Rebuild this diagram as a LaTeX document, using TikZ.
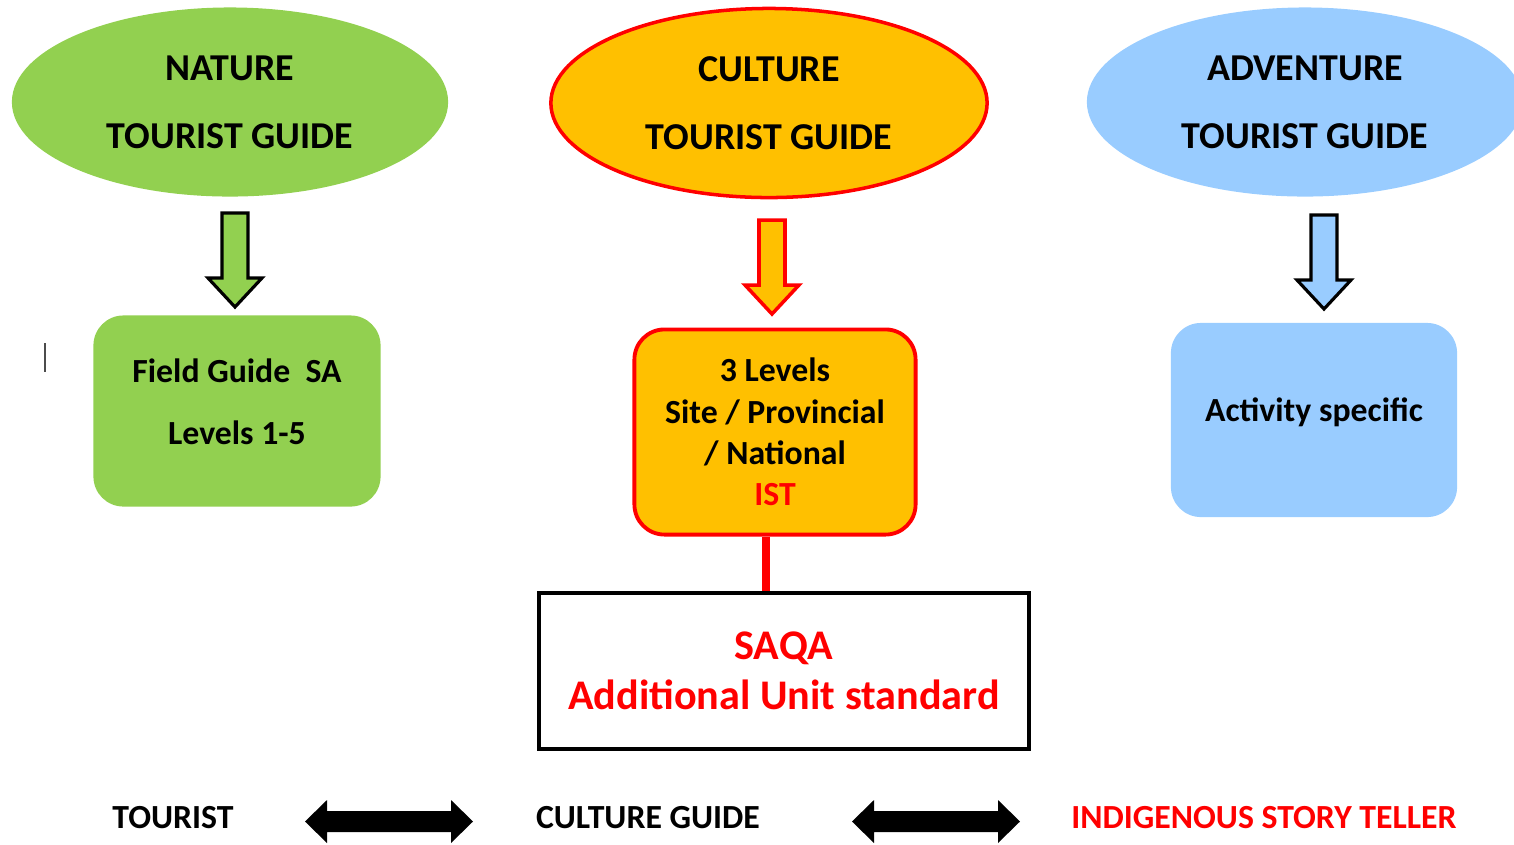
\documentclass[tikz,border=0pt]{standalone}
\usepackage{fontspec}
\setmainfont{Carlito}
\usetikzlibrary{shapes.geometric}
\usetikzlibrary{positioning}

\definecolor{natgreen}{HTML}{92D050}
\definecolor{culorange}{HTML}{FFC000}
\definecolor{advblue}{HTML}{99CCFF}

\tikzset{
    guide/.style={ellipse, minimum width=4.36cm, minimum height=1.89cm, inner sep=0pt, align=center,
        font=\bfseries\fontsize{10.8}{19.3}\selectfont},
    levelbox/.style={rectangle, rounded corners=0.3cm, inner sep=0pt, align=center,
        font=\bfseries\fontsize{9.6}{11.75}\selectfont},
    boxtext/.style={inner sep=0pt, align=center, font=\bfseries\fontsize{9.6}{17.6}\selectfont},
    rowtext/.style={inner sep=0pt, font=\bfseries\fontsize{9.6}{11.5}\selectfont},
    pics/downblock/.style={code={
        \draw[#1] (-13,0) -- (13,0) -- (13,65) -- (27,65) -- (0,94) -- (-27,65) -- (-13,65) -- cycle;
    }},
    pics/twinblock/.style={code={
        \fill (-84,0) -- (-62,-21.5) -- (-62,-10.5) -- (62,-10.5) -- (62,-21.5) -- (84,0)
            -- (62,21.5) -- (62,10.5) -- (-62,10.5) -- (-62,21.5) -- cycle;
    }}
}

\begin{document}
\begin{tikzpicture}[x=0.01cm, y=-0.01cm]
        \useasboundingbox (0,0) rectangle (1514,844);

        % Guide types
        \node[guide, fill=natgreen] (nature) at (230,102) {NATURE\\TOURIST GUIDE};
        \node[guide, fill=culorange, draw=red, line width=1pt] (culture) at (769,103) {CULTURE\\TOURIST GUIDE};
        \node[guide, fill=advblue] (adventure) at (1305,102) {ADVENTURE\\TOURIST GUIDE};

        % Down arrows
        \pic at (235,213) {downblock={fill=natgreen, draw=black, line width=0.9pt}};
        \pic at (772,220) {downblock={fill=culorange, draw=red, line width=1pt}};
        \pic at (1324,215) {downblock={fill=advblue, draw=black, line width=0.9pt}};

        % Qualification boxes
        \node[levelbox, fill=natgreen, minimum width=2.87cm, minimum height=1.91cm] (fieldbox) at (237,411) {};
        \node[boxtext] (fieldtext) at ([yshift=0.09cm]fieldbox.center) {Field Guide\ \ SA\\Levels 1-5};
        \node[levelbox, fill=culorange, draw=red, line width=1.1pt, minimum width=2.81cm, minimum height=2.05cm]
            (culturebox) at (775,432) {3 Levels\\Site / Provincial\\/ National\\\textcolor{red}{IST}};
        \node[levelbox, fill=advblue, minimum width=2.86cm, minimum height=1.94cm] (activitybox) at (1314,420) {};
        \node[boxtext] (activitytext) at ([yshift=0.08cm]activitybox.center) {Activity specific};

        % SAQA unit standard
        \node[draw=black, line width=1.3pt, fill=white, minimum width=4.9cm, minimum height=1.56cm, align=center,
            text=red, font=\bfseries\fontsize{12}{14.2}\selectfont] (saqabox) at (784,671) {SAQA\\Additional Unit standard};
        \draw[red, line width=2pt] ([xshift=-0.09cm]culturebox.south) -- ([xshift=-0.09cm]culturebox.south |- saqabox.north);

        % Cursor mark
        \draw[gray!60!black, line width=0.4pt] (45,343) -- (45,372);

        % Bottom row
        \node[rowtext] (tourist) at (173,818) {TOURIST};
        \node[rowtext] (cultguide) at (648,818) {CULTURE GUIDE};
        \node[rowtext, text=red] (storyteller) at (1264,818) {INDIGENOUS STORY TELLER};
        \pic at (389,821.5) {twinblock};
        \pic at (936,821.5) {twinblock};

    \end{tikzpicture}
\end{document}
